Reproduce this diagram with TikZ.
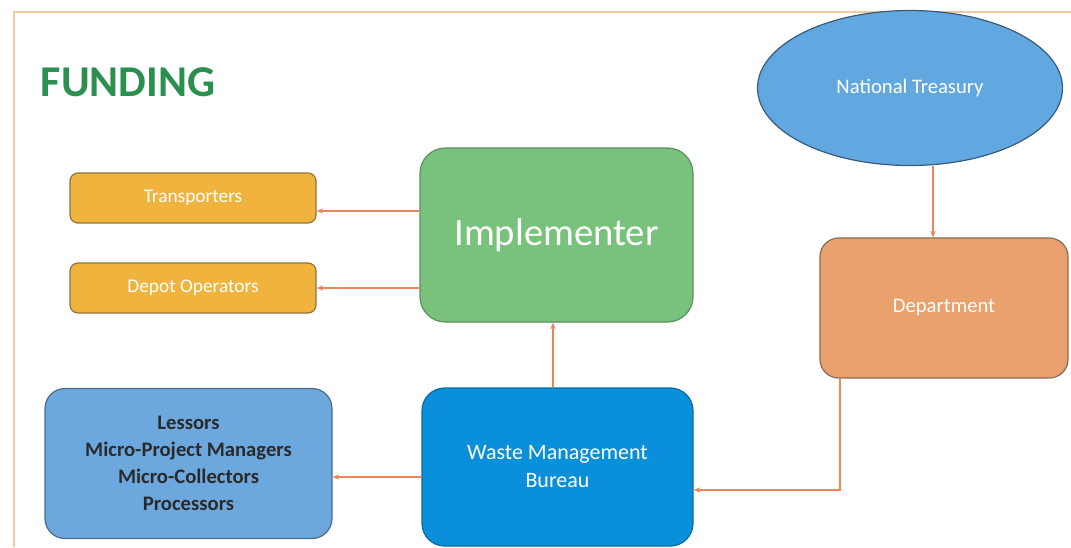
\documentclass[tikz,border=0pt]{standalone}
\usepackage{fontspec}
\setmainfont{Carlito}
\usetikzlibrary{shapes.geometric,arrows.meta}
\definecolor{fundgreen}{HTML}{2A8F4F}
\definecolor{ntfill}{HTML}{62A8E0}
\definecolor{ntdraw}{HTML}{3A5A7A}
\definecolor{depfill}{HTML}{E9A26E}
\definecolor{depdraw}{HTML}{8A6A50}
\definecolor{impfill}{HTML}{78C27C}
\definecolor{impdraw}{HTML}{5E8F62}
\definecolor{trfill}{HTML}{F0B43E}
\definecolor{trdraw}{HTML}{8E7638}
\definecolor{lesfill}{HTML}{6CA8DE}
\definecolor{lesdraw}{HTML}{4A6C8C}
\definecolor{wmbfill}{HTML}{0A90DA}
\definecolor{wmbdraw}{HTML}{0C6AA0}
\definecolor{arrcol}{HTML}{E8885A}
\definecolor{framecol}{HTML}{F5C9A0}
\definecolor{lestext}{HTML}{2A2A2A}
\tikzset{
  box/.style={draw, line width=0.9pt, inner sep=2pt, align=center, text=white},
  arr/.style={draw=arrcol, line width=0.9pt, -{Stealth[length=5pt,width=4pt]}},
}
\begin{document}
\begin{tikzpicture}[x=0.75pt,y=-0.75pt]
\useasboundingbox (0,0) rectangle (1071,547);
% frame
\draw[framecol, line width=1pt] (14,547) -- (14,12) -- (1071,12);
% title
\node[text=fundgreen, font=\fontsize{33}{36}\selectfont\bfseries] (title) at (128,82) {FUNDING};
% nodes
\node[box, ellipse, fill=ntfill, draw=ntdraw, minimum width=228.75pt, minimum height=116.25pt,
      font=\fontsize{15.5}{19}\selectfont] (NT) at (910,88) {\raisebox{-1.5pt}{National Treasury}};
\node[box, rounded corners=14pt, fill=depfill, draw=depdraw, minimum width=186pt, minimum height=105pt,
      font=\fontsize{15.5}{19}\selectfont] (Dept) at (944,308) {\raisebox{-2pt}{Department}};
\node[box, rounded corners=19pt, fill=impfill, draw=impdraw, minimum width=204.75pt, minimum height=130.5pt,
      font=\fontsize{29}{34}\selectfont] (Impl) at (556.5,235) {\raisebox{-4pt}{Implementer}};
\node[box, rounded corners=6pt, fill=trfill, draw=trdraw, minimum width=184.5pt, minimum height=37.5pt,
      font=\fontsize{14.5}{17}\selectfont] (Trans) at (193,198) {Transporters};
\node[box, rounded corners=6pt, fill=trfill, draw=trdraw, minimum width=184.5pt, minimum height=37.5pt,
      font=\fontsize{14.5}{17}\selectfont] (Depot) at (193,288) {Depot Operators};
\node[box, rounded corners=15pt, fill=lesfill, draw=lesdraw, minimum width=215.25pt, minimum height=112.5pt,
      text=lestext, font=\fontsize{15.5}{20.2}\selectfont\bfseries] (Les) at (188.5,463.5)
      {Lessors\\Micro-Project Managers\\Micro-Collectors\\Processors};
\node[box, rounded corners=17pt, fill=wmbfill, draw=wmbdraw, minimum width=203.25pt, minimum height=118.5pt,
      font=\fontsize{16.5}{21}\selectfont] (WMB) at (557.5,467) {\raisebox{-3pt}{Waste Management}\\\raisebox{-3pt}{Bureau}};
% connectors
\draw[arr] ([xshift=17.25pt]NT.south) -- ([xshift=-8.25pt]Dept.north);
\draw[arr] ([yshift=18pt]Impl.west) -- ([yshift=18pt]Impl.west -| Trans.east);
\draw[arr] ([yshift=-39.75pt]Impl.west) -- ([yshift=-39.75pt]Impl.west -| Depot.east);
\draw[arr] ([xshift=-3.4pt]WMB.north) -- ([xshift=-3.4pt]WMB.north |- Impl.south);
\draw[arr] ([xshift=-78pt]Dept.south) |- ([yshift=-17.25pt]WMB.east);
\draw[arr] ([yshift=-7.5pt]WMB.west) -- ([yshift=-7.5pt]WMB.west -| Les.east);
\end{tikzpicture}
\end{document}
